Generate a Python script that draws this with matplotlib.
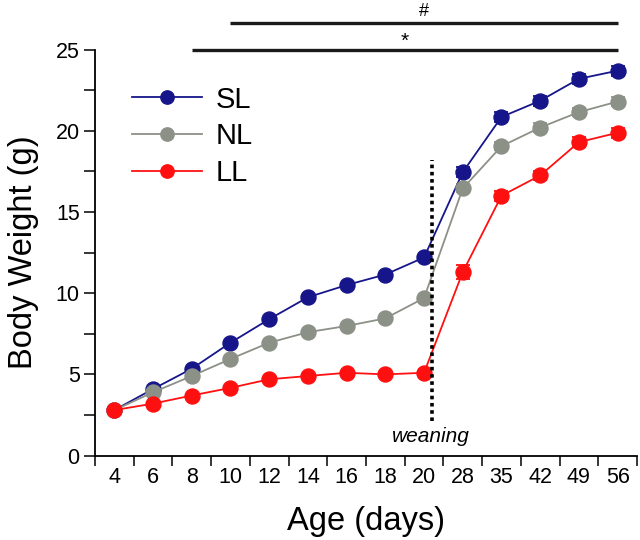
import matplotlib
matplotlib.use("Agg")
import matplotlib.pyplot as plt
from matplotlib.ticker import FixedLocator, MultipleLocator
from matplotlib.lines import Line2D
import numpy as np

plt.rcParams['font.family'] = ['Liberation Sans', 'DejaVu Sans']

days = ['4', '6', '8', '10', '12', '14', '16', '18', '20', '28', '35', '42', '49', '56']
sl = [2.8, 4.1, 5.35, 6.95, 8.4, 9.75, 10.5, 11.15, 12.2, 17.45, 20.85, 21.85, 23.2, 23.7]
nl = [2.8, 3.9, 4.9, 5.95, 6.95, 7.6, 7.98, 8.45, 9.7, 16.45, 19.05, 20.2, 21.15, 21.8]
ll = [2.8, 3.2, 3.7, 4.17, 4.7, 4.9, 5.1, 5.0, 5.1, 11.3, 16.0, 17.25, 19.3, 19.88]
sl_err = [0.1, 0.1, 0.1, 0.1, 0.1, 0.1, 0.1, 0.1, 0.1, 0.3, 0.3, 0.3, 0.3, 0.3]
nl_err = [0.1, 0.1, 0.1, 0.1, 0.1, 0.1, 0.1, 0.1, 0.1, 0.25, 0.25, 0.25, 0.25, 0.25]
ll_err = [0.1, 0.1, 0.1, 0.1, 0.1, 0.1, 0.1, 0.1, 0.1, 0.45, 0.3, 0.3, 0.3, 0.3]
series_names = ['SL', 'NL', 'LL']
colors = ['#16168a', '#8c9187', '#ff1010']

fig = plt.figure(figsize=(6.4, 5.4), dpi=100)
ax = fig.add_axes([0.1484, 0.1563, 0.8469, 0.7519])

x = np.arange(len(days))
handles = []
for vals, err, name, c in zip([sl, nl, ll], [sl_err, nl_err, ll_err], series_names, colors):
    ax.errorbar(x, vals, yerr=err, color=c, lw=1.3, marker='o', ms=10.8,
                mec=c, mfc=c, capsize=5, capthick=1.3, elinewidth=1.3, zorder=3)
    handles.append(Line2D([], [], color=c, lw=1.3, marker='o', ms=9.6, mec=c, mfc=c, label=name))

ax.set_xlim(-0.5, len(days) - 0.5)
ax.set_ylim(0, 25)

# x ticks: labels at centers, tick marks at boundaries
ax.set_xticks(x)
ax.set_xticklabels(days)
ax.xaxis.set_minor_locator(FixedLocator(np.arange(-0.5, len(days), 1.0)))
ax.tick_params(axis='x', which='major', length=0, pad=8, labelsize=15.5)
ax.tick_params(axis='x', which='minor', length=7, width=1.1, direction='out')
ax.yaxis.set_major_locator(MultipleLocator(5))
ax.yaxis.set_minor_locator(MultipleLocator(2.5))
ax.tick_params(axis='y', which='both', length=8, width=1.1, direction='out', pad=3, labelsize=15.5)

for s in ['top', 'right']:
    ax.spines[s].set_visible(False)
for s in ['left', 'bottom']:
    ax.spines[s].set_linewidth(1.3)

ax.set_xlabel('Age (days)', fontsize=23.5, labelpad=13)
ax.set_ylabel('Body Weight (g)', fontsize=23.5, labelpad=12)

# weaning line
ax.plot([8.2, 8.2], [2.1, 18.2], color='black', lw=2.6, dashes=(1.0, 1.0), zorder=4)
ax.text(8.18, 1.2, 'weaning', style='italic', fontsize=15, ha='center', va='center')

# significance bars
ax.plot([2, 13], [24.95, 24.95], color='#1a1a1a', lw=2.4, clip_on=False, solid_capstyle='butt')
ax.text(7.5, 25.5, '*', fontsize=15, ha='center', va='center', clip_on=False)
ax.plot([3, 13], [26.65, 26.65], color='#1a1a1a', lw=2.4, clip_on=False, solid_capstyle='butt')
ax.text(8.0, 27.35, '#', fontsize=13, ha='center', va='center', clip_on=False)

ax.legend(handles=handles, loc='upper left', bbox_to_anchor=(0.047, 0.94), frameon=False,
          fontsize=21, handlelength=2.4, handletextpad=0.45, labelspacing=0.3,
          borderaxespad=0)

fig.savefig('out.png', dpi=100)
